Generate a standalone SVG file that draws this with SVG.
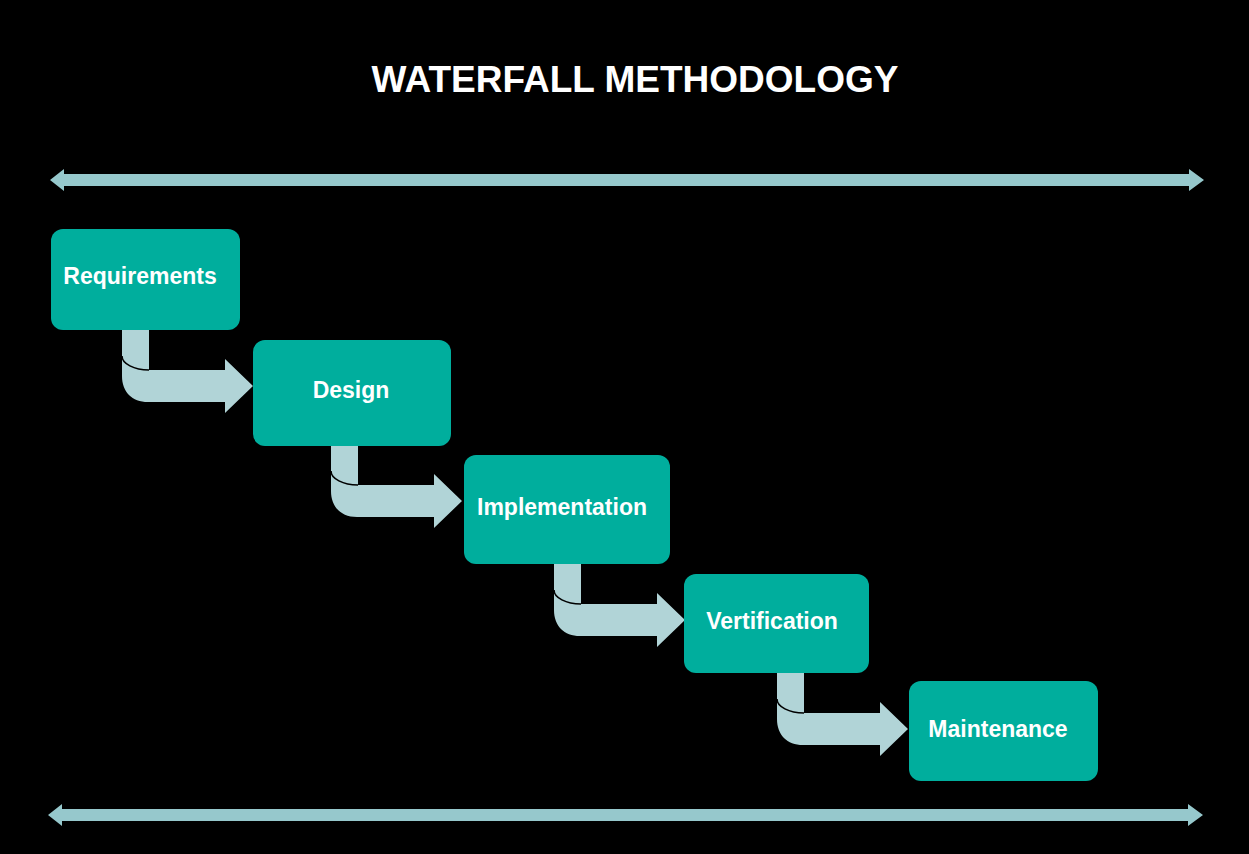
<svg xmlns="http://www.w3.org/2000/svg" xmlns:xlink="http://www.w3.org/1999/xlink" width="1249" height="854" viewBox="0 0 1249 854">
  <style>
    .box { fill: #00AE9D; }
    .lbl { font-family: "Liberation Sans", Arial, sans-serif; font-weight: bold; font-size: 23px; fill: #FFFFFF; text-anchor: middle; }
    .title { font-family: "Liberation Sans", Arial, sans-serif; font-weight: bold; font-size: 37px; fill: #FFFFFF; text-anchor: middle; }
    .bent { fill: #B1D4D7; }
    .crease { fill: none; stroke: #000000; stroke-width: 1.6; }
    .span { fill: #96C8CC; }
  </style>
  <defs>
    <g id="bentArrow">
      <path class="bent" d="M0,-4 H27 V40 H103 V29 L131,56 L103,83 V72 H26 C10,72 0,62 0,46 Z"/>
      <path class="crease" d="M0,26 A27,14 0 0 0 27,40"/>
    </g>
  </defs>
  <rect x="0" y="0" width="1249" height="854" fill="#000000"/>
  <text class="title" x="635" y="92">WATERFALL METHODOLOGY</text>

  <g id="connectors">
    <path class="span" d="M50,180 L64,169 V174 H1189 V169 L1204,180 L1189,191 V186 H64 V191 Z"/>
    <path class="span" d="M48,815 L62,804 V809 H1188 V804 L1203,815 L1188,826 V821 H62 V826 Z"/>
    <use xlink:href="#bentArrow" href="#bentArrow" transform="translate(122,330)"/>
    <use xlink:href="#bentArrow" href="#bentArrow" transform="translate(331,445)"/>
    <use xlink:href="#bentArrow" href="#bentArrow" transform="translate(554,564)"/>
    <use xlink:href="#bentArrow" href="#bentArrow" transform="translate(777,673)"/>
  </g>

  <g id="node-requirements">
    <rect class="box" x="51" y="229" width="189" height="101" rx="12"/>
    <text class="lbl" x="140" y="284">Requirements</text>
  </g>
  <g id="node-design">
    <rect class="box" x="253" y="340" width="198" height="106" rx="12"/>
    <text class="lbl" x="351" y="398">Design</text>
  </g>
  <g id="node-implementation">
    <rect class="box" x="464" y="455" width="206" height="109" rx="12"/>
    <text class="lbl" x="562" y="515">Implementation</text>
  </g>
  <g id="node-verification">
    <rect class="box" x="684" y="574" width="185" height="99" rx="12"/>
    <text class="lbl" x="772" y="629">Vertification</text>
  </g>
  <g id="node-maintenance">
    <rect class="box" x="909" y="681" width="189" height="100" rx="12"/>
    <text class="lbl" x="998" y="737">Maintenance</text>
  </g>
</svg>
